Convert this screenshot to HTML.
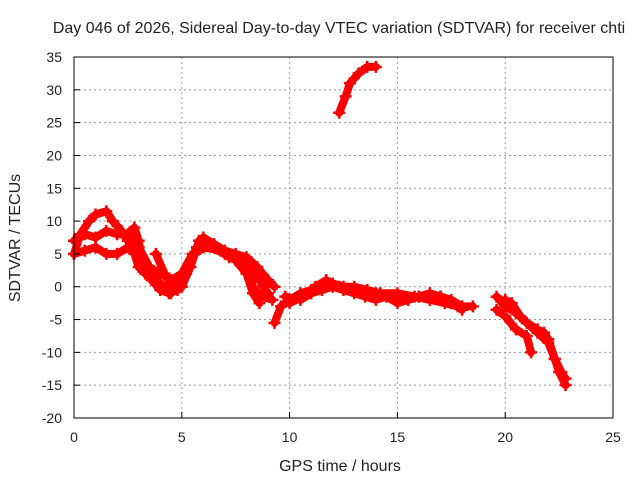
<!DOCTYPE html>
<html><head><meta charset="utf-8"><style>
body{margin:0;background:#fff}
svg text{font-family:"Liberation Sans",sans-serif;font-size:14px;fill:#222}
svg text.big{font-size:16px}
</style></head><body>
<svg width="640" height="480" xmlns="http://www.w3.org/2000/svg">
<rect width="640" height="480" fill="#fff"/>
<g id="grid"></g>
<g id="marks"></g>
<rect x="74" y="57" width="539" height="361" fill="none" stroke="#000" stroke-width="1"/>
<g id="ticks"></g>
<text class="big" x="339" y="33" text-anchor="middle">Day 046 of 2026, Sidereal Day-to-day VTEC variation (SDTVAR) for receiver chti</text>
<text class="big" x="340" y="471" text-anchor="middle">GPS time / hours</text>
<text class="big" x="20" y="238" text-anchor="middle" transform="rotate(-90 20 238)">SDTVAR / TECUs</text>
</svg>
<script>
const xTicks=[0,5,10,15,20,25];
const yTicks=[-20,-15,-10,-5,0,5,10,15,20,25,30,35];
const trackA=[[0,5],[0.3,8],[0.7,10],[1,11],[1.5,11.5],[1.8,10],[2.2,8.5],[2.5,7],[2.8,5],[3,3],[3.3,2],[3.7,1],[4,0.5],[4.5,-0.5],[4.8,0],[5,1]];
const trackB=[[0,7],[0.5,8],[1,7.5],[1.5,8.5],[2,8],[2.5,8],[2.8,9],[3,7],[3.2,3],[3.5,2.5],[4,0],[4.5,-1],[5,1],[5.3,3],[5.7,6],[6,7.5],[6.5,6.5],[7,5.5],[7.5,5],[8,4.5],[8.5,3],[9,1],[9.3,0]];
const trackC=[[0,5],[0.5,5.5],[1,6],[1.5,5],[2,5],[2.5,6],[2.8,8],[3,6],[3.5,3],[4,2],[4.5,1],[5,2],[5.5,5],[6,6.5],[7,5],[8,4],[8.3,0],[8.7,-1.5],[9.2,-2]];
const trackC2=[[3.2,3.5],[3.6,1],[4,-0.5],[4.4,-1],[4.8,-0.5],[5.2,2],[5.6,5],[6,6],[6.8,5.5],[7.5,4],[8,2],[8.3,-1],[8.6,-2.5]];
const trackC3=[[3.8,5],[4.2,2],[4.6,0],[5,0],[5.4,3],[5.8,7],[6.5,6],[7.2,4.5],[7.8,4],[8.2,3],[8.6,1],[9,-1]];
const trackD=[[9.3,-5.5],[9.6,-3],[10,-2],[10.5,-1],[11,-0.5],[11.5,0],[12,0.5],[12.5,0],[13,-0.5],[13.5,-1],[14,-1],[14.5,-1.5],[15,-1.5],[15.5,-2],[16,-1.5],[16.5,-1.5],[17,-1.5],[17.5,-2],[18,-3],[18.5,-3]];
const trackD2=[[9.8,-1.5],[10.5,-2],[11,-1],[11.5,-0.5],[12,0],[12.5,-0.5],[13,-1],[13.5,-1.5],[14,-2],[14.5,-1.5],[15,-2.5],[15.5,-2],[16,-1.5],[16.5,-1],[17,-1.5],[17.5,-2.5],[18,-3.5]];
const trackD3=[[10,-2.5],[10.6,-1.5],[11.2,0],[11.7,1],[12.3,0],[13,0],[13.6,-0.5],[14.2,-1],[15,-1],[15.8,-1.5],[16.5,-2],[17.2,-2.5],[17.8,-3]];
const trackE=[[12.3,26.5],[12.6,29],[12.8,31],[13.2,32.5],[13.6,33.5],[14,33.5]];
const trackF=[[19.6,-1.5],[20,-3],[20.5,-4],[21,-5.5],[21.5,-6.5],[21.8,-7],[22,-8],[22.3,-11],[22.5,-13],[22.8,-15]];
const trackG=[[20,-2],[20.3,-2.5],[20.7,-4.5],[21,-5.5],[21.5,-7],[22,-8.5],[22.3,-11],[22.6,-13],[22.8,-14]];
const trackH=[[19.6,-3.5],[20,-4.5],[20.5,-6.5],[21,-7.5],[21.2,-10]];
const tracks=[trackA,trackB,trackC,trackC2,trackC3,trackD,trackD2,trackD3,trackE,trackF,trackG,trackH];
const NS="http://www.w3.org/2000/svg";
const X=v=>74+(v-0)/25*539;
const Y=v=>418-(v+20)/55*361;
const grid=document.getElementById('grid'),ticks=document.getElementById('ticks'),marks=document.getElementById('marks');
function mk(t,a,p){const e=document.createElementNS(NS,t);for(const k in a)e.setAttribute(k,a[k]);p.appendChild(e);return e;}
xTicks.forEach(v=>{
 const l=mk('line',{x1:X(v),x2:X(v),y1:57,y2:418,stroke:'#999','stroke-dasharray':'2,3'},grid);
 
 
 const t=mk('line',{x1:X(v),x2:X(v),y1:418,y2:412,stroke:'#000'},ticks);
 
 
 const tx=mk('text',{x:X(v),y:442,'text-anchor':'middle'},ticks);tx.textContent=v;
 
 
});
yTicks.forEach(v=>{
 const l=mk('line',{x1:74,x2:613,y1:Y(v),y2:Y(v),stroke:'#999','stroke-dasharray':'2,3'},grid);
 
 
 const t=mk('line',{x1:74,x2:80,y1:Y(v),y2:Y(v),stroke:'#000'},ticks);
 
 
 const tx=mk('text',{x:62,y:Y(v)+5,'text-anchor':'end'},ticks);tx.textContent=v;
 
 
});
tracks.forEach(tr=>{
 const p=mk('polyline',{points:tr.map(d=>X(d[0])+','+Y(d[1])).join(' '),fill:'none',stroke:'#f00','stroke-width':8,'stroke-linejoin':'round','stroke-linecap':'round'},marks);
 
 
 tr.forEach(d=>{
  const c=mk('path',{d:`M${X(d[0])-6},${Y(d[1])}h12M${X(d[0])},${Y(d[1])-6}v12`,stroke:'#f00','stroke-width':2.5},marks);
  
  
 });
});
</script>
</body></html>
